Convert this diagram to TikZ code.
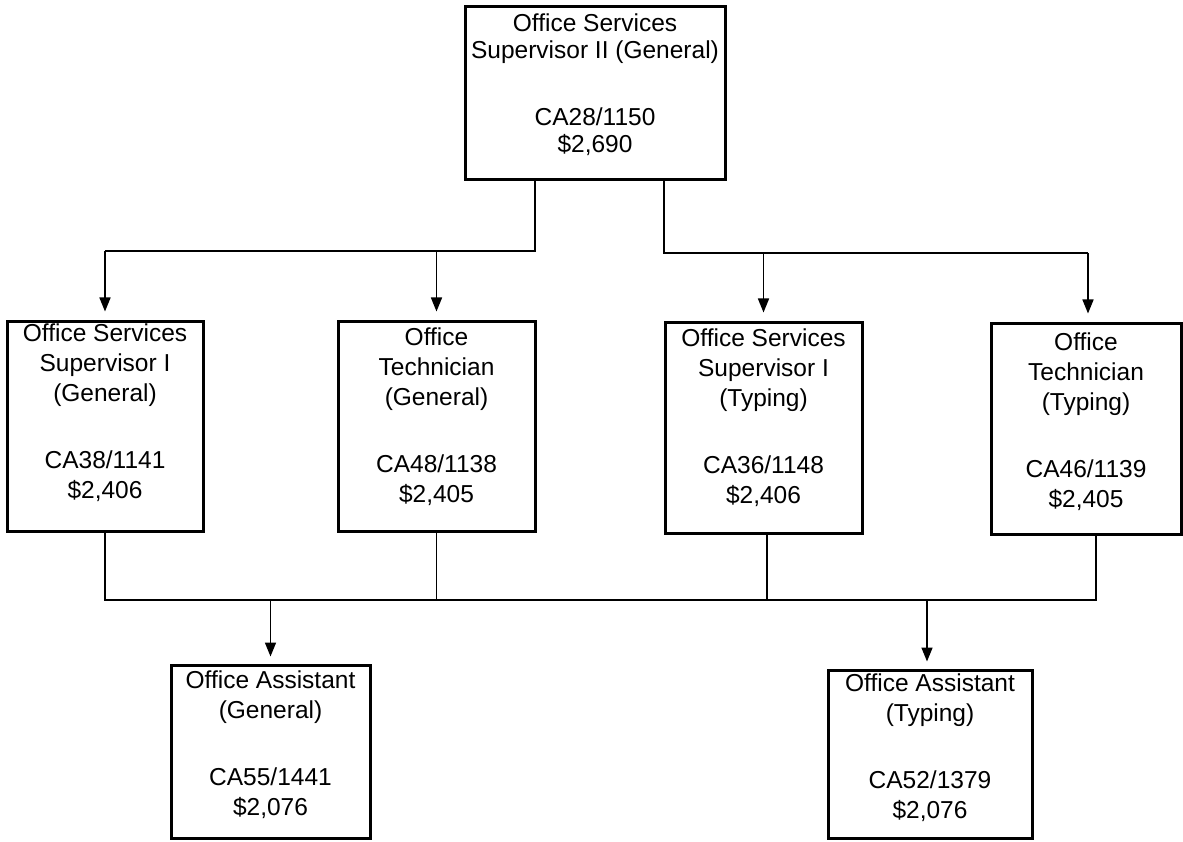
\documentclass[tikz,border=0pt]{standalone}
\usepackage{fontspec}
\setmainfont{Liberation Sans}
\usetikzlibrary{arrows.meta}
\begin{document}
\begin{tikzpicture}[x=1pt,y=-1pt,
  box/.style={draw=black, line width=3pt, inner sep=0pt},
  txt/.style={align=center, inner sep=0pt, anchor=north, font=\fontsize{24.5}{30}\selectfont},
  toptxt/.style={txt, font=\fontsize{24.5}{27}\selectfont},
  link/.style={draw=black, line width=1.6pt},
  arr/.style={link, -{Triangle[length=14pt,width=11pt]}}]
\useasboundingbox (0,0) rectangle (1183,842);
% boxes
\node[box, minimum width=260pt, minimum height=173pt] (top) at (595,93.5) {};
\node[box, minimum width=196pt, minimum height=210pt] (b1) at (105,426) {};
\node[box, minimum width=197pt, minimum height=210pt] (b2) at (436.5,426) {};
\node[box, minimum width=197pt, minimum height=211pt] (b3) at (763.5,427.5) {};
\node[box, minimum width=190pt, minimum height=211pt] (b4) at (1086,428.5) {};
\node[box, minimum width=199pt, minimum height=173pt] (b5) at (270.5,751.5) {};
\node[box, minimum width=204pt, minimum height=168pt] (b6) at (930,754) {};
% texts
\node[toptxt] (topt) at (595,14) {Office Services\\Supervisor II (General)\\[40pt]CA28/1150\\\$2,690};
\node[txt] (b1t) at (105,324) {Office Services\\Supervisor I\\(General)\\[37pt]CA38/1141\\\$2,406};
\node[txt] (b2t) at (436.5,328) {Office\\Technician\\(General)\\[37pt]CA48/1138\\\$2,405};
\node[txt] (b3t) at (763.5,329) {Office Services\\Supervisor I\\(Typing)\\[37pt]CA36/1148\\\$2,406};
\node[txt] (b4t) at (1086,333) {Office\\Technician\\(Typing)\\[37pt]CA46/1139\\\$2,405};
\node[txt] (b5t) at (270.5,671) {Office Assistant\\(General)\\[37pt]CA55/1441\\\$2,076};
\node[txt] (b6t) at (930,674) {Office Assistant\\(Typing)\\[37pt]CA52/1379\\\$2,076};
% junctions
\coordinate (jl) at (535,251);
\coordinate (jr) at (664,253);
\coordinate (jb) at (105,600);
\coordinate (b4in) at ([xshift=2pt,yshift=8pt]b4.north);
\coordinate (b4out) at ([xshift=10pt]b4.south);
\coordinate (b3out) at ([xshift=3.5pt]b3.south);
\coordinate (b6in) at ([xshift=-3pt,yshift=7pt]b6.north);
% top to row 2
\draw[link] ([xshift=-60pt]top.south) -- (jl) -- (jl -| b1.north);
\draw[arr] (jl -| b1.north) -- ([yshift=8pt]b1.north);
\draw[arr] (jl -| b2.north) -- ([yshift=8pt]b2.north);
\draw[link] ([xshift=69pt]top.south) -- (jr) -- (jr -| b4in);
\draw[arr] (jr -| b3.north) -- ([yshift=8pt]b3.north);
\draw[arr] (jr -| b4in) -- (b4in);
% row 2 to bottom
\draw[link] (b1.south) -- (jb) -- (jb -| b4out) -- (b4out);
\draw[link] (b2.south) -- (jb -| b2.south);
\draw[link] (b3out) -- (jb -| b3out);
\draw[arr] (jb -| b5.north) -- ([yshift=7pt]b5.north);
\draw[arr] (jb -| b6in) -- (b6in);
\end{tikzpicture}
\end{document}
